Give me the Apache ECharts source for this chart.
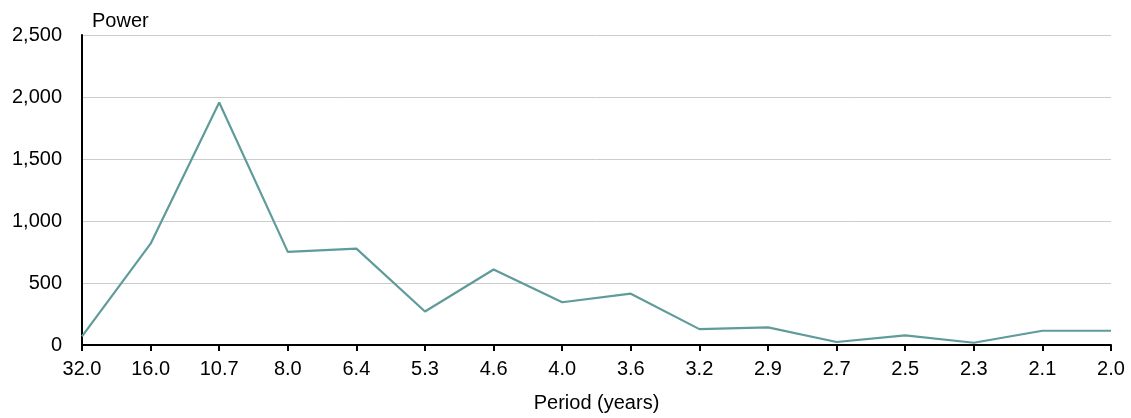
<!DOCTYPE html>
<html>
<head>
<meta charset="utf-8">
<script src="https://cdn.jsdelivr.net/npm/echarts@6/dist/echarts.min.js"></script>
<style>html,body{margin:0;padding:0;background:#fff}#c{width:1131px;height:418px}</style>
</head>
<body>
<div id="c"></div>
<script>
const periods = ['32.0','16.0','10.7','8.0','6.4','5.3','4.6','4.0','3.6','3.2','2.9','2.7','2.5','2.3','2.1','2.0'];
const power = [70, 817, 1955, 751, 777, 270, 609, 345, 414, 128, 142, 24, 78, 18, 115, 115];
const yTicks = [0, 500, 1000, 1500, 2000, 2500];

const chart = echarts.init(document.getElementById('c'));
const font = 'Liberation Sans, Arial, sans-serif';
chart.setOption({
  animation: false,
  grid: {left: 82, right: 20, top: 35, bottom: 70},
  xAxis: {
    type: 'category', data: periods, boundaryGap: false,
    name: 'Period (years)', nameLocation: 'middle', nameGap: 48,
    nameTextStyle: {color: '#000', fontSize: 20, fontFamily: font},
    axisLine: {lineStyle: {color: '#000', width: 2}},
    axisTick: {show: true, length: 6, lineStyle: {color: '#000', width: 2}, alignWithLabel: true},
    axisLabel: {color: '#000', fontSize: 20, fontFamily: font, margin: 14, interval: 0},
    splitLine: {show: false}
  },
  yAxis: {
    type: 'value', min: 0, max: 2500, interval: 500,
    name: 'Power', nameLocation: 'end', nameGap: 4,
    nameTextStyle: {color: '#000', fontSize: 20, fontFamily: font, align: 'left', padding: [0, 0, 0, 10]},
    axisLine: {show: true, lineStyle: {color: '#000', width: 2}},
    axisTick: {show: false},
    axisLabel: {color: '#000', fontSize: 20, fontFamily: font, margin: 20,
      formatter: v => yTicks.includes(v) ? v.toLocaleString('en-US') : ''},
    splitLine: {show: true, lineStyle: {color: '#cccccc', width: 1}}
  },
  series: [{
    type: 'line', data: power, symbol: 'none',
    lineStyle: {color: '#5f9b9b', width: 2.2}
  }]
});
</script>
</body>
</html>
